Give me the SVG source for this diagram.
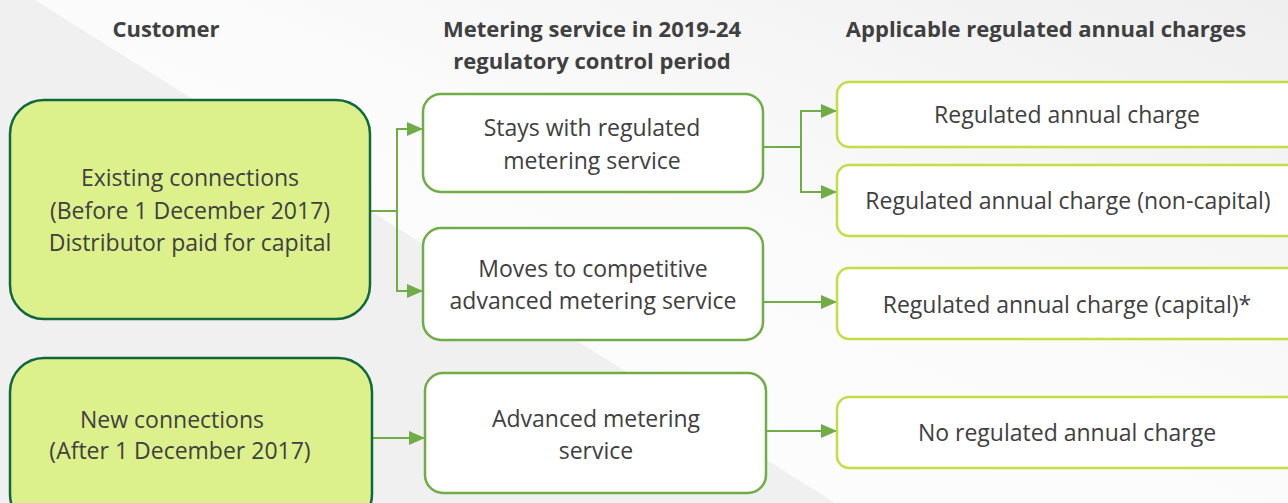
<svg xmlns="http://www.w3.org/2000/svg" width="1288" height="503" viewBox="0 0 1288 503">
  <defs>
    <style>
      .hdr { font-family: "Open Sans", "Noto Sans", sans-serif; font-weight: bold; font-size: 22px; fill: #404040; text-anchor: middle; }
      .lbl { font-family: "Open Sans", "Noto Sans", sans-serif; font-size: 23px; fill: #404040; text-anchor: middle; }
      .cust { fill: #dcf08c; stroke: #10683c; stroke-width: 2.5; }
      .svc { fill: #ffffff; stroke: #70ad47; stroke-width: 2.5; }
      .chg { fill: #ffffff; stroke: #c3de45; stroke-width: 2.5; }
      .conn { fill: none; stroke: #70ad47; stroke-width: 2; }
    </style>
    <marker id="arrow" viewBox="0 0 16 14" refX="16" refY="7" markerWidth="16" markerHeight="14" markerUnits="userSpaceOnUse" orient="auto">
      <path d="M0,0 L16,7 L0,14 Z" fill="#70ad47"/>
    </marker>
    <linearGradient id="sheen" x1="0" y1="1" x2="1" y2="0">
      <stop offset="0" stop-color="#ffffff"/>
      <stop offset="0.55" stop-color="#fbfbfb"/>
      <stop offset="1" stop-color="#efefef"/>
    </linearGradient>
  </defs>

  <!-- backdrop: light grey with a pale diagonal band -->
  <rect x="0" y="0" width="1288" height="503" fill="#f0f0f0"/>
  <polygon points="35,0 1288,0 1288,503 835,503" fill="url(#sheen)"/>

  <!-- column headings -->
  <g id="headings">
    <text class="hdr" x="166" y="37">Customer</text>
    <text class="hdr" x="592" y="37">Metering service in 2019-24</text>
    <text class="hdr" x="592" y="69">regulatory control period</text>
    <text class="hdr" x="1046" y="37">Applicable regulated annual charges</text>
  </g>

  <!-- connectors -->
  <g id="connectors">
    <path class="conn" d="M370,211 H397 V129 H423" marker-end="url(#arrow)"/>
    <path class="conn" d="M397,211 V291 H423" marker-end="url(#arrow)"/>
    <path class="conn" d="M763,147 H801 V111 H837" marker-end="url(#arrow)"/>
    <path class="conn" d="M801,147 V192 H837" marker-end="url(#arrow)"/>
    <path class="conn" d="M763,302 H837" marker-end="url(#arrow)"/>
    <path class="conn" d="M372,438 H425" marker-end="url(#arrow)"/>
    <path class="conn" d="M766,431 H837" marker-end="url(#arrow)"/>
  </g>

  <!-- customer nodes -->
  <g id="existing-connections">
    <rect class="cust" x="10" y="100" width="360" height="219" rx="34"/>
    <text class="lbl" x="190" y="186">Existing connections</text>
    <text class="lbl" x="190" y="219">(Before 1 December 2017)</text>
    <text class="lbl" x="190" y="251">Distributor paid for capital</text>
  </g>
  <g id="new-connections">
    <rect class="cust" x="10" y="358" width="362" height="170" rx="34"/>
    <text class="lbl" x="172" y="428">New connections</text>
    <text class="lbl" x="180" y="459">(After 1 December 2017)</text>
  </g>

  <!-- metering service nodes -->
  <g id="stays-regulated">
    <rect class="svc" x="423" y="94" width="340" height="98" rx="18"/>
    <text class="lbl" x="592" y="136">Stays with regulated</text>
    <text class="lbl" x="592" y="169">metering service</text>
  </g>
  <g id="moves-competitive">
    <rect class="svc" x="423" y="228" width="340" height="112" rx="18"/>
    <text class="lbl" x="593" y="277">Moves to competitive</text>
    <text class="lbl" x="593" y="309">advanced metering service</text>
  </g>
  <g id="advanced-metering">
    <rect class="svc" x="425" y="373" width="341" height="120" rx="18"/>
    <text class="lbl" x="596" y="427">Advanced metering</text>
    <text class="lbl" x="596" y="459">service</text>
  </g>

  <!-- applicable charge nodes -->
  <g id="charge-regulated">
    <rect class="chg" x="837" y="82" width="480" height="65" rx="12"/>
    <text class="lbl" x="1067" y="123">Regulated annual charge</text>
  </g>
  <g id="charge-non-capital">
    <rect class="chg" x="837" y="165" width="480" height="71" rx="12"/>
    <text class="lbl" x="1068" y="209">Regulated annual charge (non-capital)</text>
  </g>
  <g id="charge-capital">
    <rect class="chg" x="837" y="268" width="480" height="71" rx="12"/>
    <text class="lbl" x="1067" y="313">Regulated annual charge (capital)*</text>
  </g>
  <g id="charge-none">
    <rect class="chg" x="837" y="397" width="480" height="71" rx="12"/>
    <text class="lbl" x="1067" y="441">No regulated annual charge</text>
  </g>
</svg>
